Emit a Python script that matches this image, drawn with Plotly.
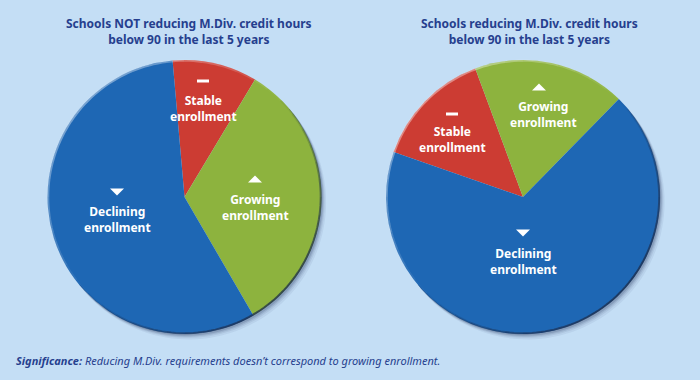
import math
import plotly.graph_objects as go

W, H = 700, 380

categories = ["Stable enrollment", "Growing enrollment", "Declining enrollment"]
left_values = [10, 33, 57]
right_values = [14, 18, 68]
colors = ["#cc3c33", "#8db33e", "#1e67b4"]

left_title = "Schools NOT reducing M.Div. credit hours<br>below 90 in the last 5 years"
right_title = "Schools reducing M.Div. credit hours<br>below 90 in the last 5 years"
note_bold = "Significance:"
note_text = " Reducing M.Div. requirements doesn’t correspond to growing enrollment."

BG = "#c4def5"
NAVY = "#263f8e"
FONT = "Noto Sans"

def px(x): return x / W
def py(y): return 1 - y / H

def dom(cx, cy, r):
    return dict(x=[px(cx - r), px(cx + r)], y=[py(cy + r), py(cy - r)])

fig = go.Figure()

pies = [
    dict(vals=left_values, cx=184.5, cy=197, r=137, rot=-5),
    dict(vals=right_values, cx=523, cy=197, r=137, rot=-70.8),
]

for p in pies:
    fig.add_trace(go.Pie(
        labels=categories, values=p["vals"], sort=False, direction="clockwise",
        rotation=p["rot"], textinfo="none", hoverinfo="label+percent",
        marker=dict(colors=colors, line=dict(width=0)),
        domain=dom(p["cx"], p["cy"], p["r"]),
        showlegend=False,
    ))

shapes = []

def path_of(pts, close=False):
    d = "M " + " L ".join(f"{px(x):.5f},{py(y):.5f}" for x, y in pts)
    return d + (" Z" if close else "")

# soft drop shadow: crescent bands outside the bottom-right edge of each pie
for p in pies:
    cx, cy, r = p["cx"], p["cy"], p["r"]
    for wmax, a in [(7, 0.06), (5, 0.08), (3.5, 0.11), (2.2, 0.15)]:
        n = 72
        th = [math.radians(-40 + 180 * k / n) for k in range(n + 1)]
        outer = [(cx + (r + wmax * max(0.0, math.cos(t - math.radians(50)))) * math.cos(t),
                  cy + (r + wmax * max(0.0, math.cos(t - math.radians(50)))) * math.sin(t)) for t in th]
        inner = [(cx + (r - 0.5) * math.cos(t), cy + (r - 0.5) * math.sin(t)) for t in reversed(th)]
        shapes.append(dict(type="path", xref="paper", yref="paper", path=path_of(outer + inner, True),
                           fillcolor=f"rgba(20,40,80,{a})", line=dict(width=0), layer="above"))

# rim: light toward top-left, dark toward bottom-right
NSEG = 48
for p in pies:
    rr = p["r"] - 0.8
    for i in range(NSEG):
        a0 = 2 * math.pi * i / NSEG
        a1 = 2 * math.pi * (i + 1) / NSEG
        am = (a0 + a1) / 2
        t = math.cos(am - math.radians(225))  # 1 at top-left, -1 at bottom-right
        if t > 0:
            col = f"rgba(255,255,255,{0.40 * t:.3f})"
        else:
            col = f"rgba(30,45,75,{0.75 * -t:.3f})"
        pts = []
        for k in range(5):
            a = a0 + (a1 - a0) * k / 4
            pts.append((p["cx"] + rr * math.cos(a), p["cy"] + rr * math.sin(a)))
        shapes.append(dict(type="path", xref="paper", yref="paper", path=path_of(pts),
                           line=dict(color=col, width=2), layer="above"))

def tri(cx, cy, up):
    w, h = 7, 7
    if up:
        pts = [(cx - w, cy + h / 2), (cx + w, cy + h / 2), (cx, cy - h / 2)]
    else:
        pts = [(cx - w, cy - h / 2), (cx + w, cy - h / 2), (cx, cy + h / 2)]
    return dict(type="path", xref="paper", yref="paper", path=path_of(pts, True),
                fillcolor="white", line=dict(width=0), layer="above")

def dash(cx, cy):
    return dict(type="rect", xref="paper", yref="paper", x0=px(cx - 6), x1=px(cx + 6),
                y0=py(cy + 1.5), y1=py(cy - 1.5), fillcolor="white", line=dict(width=0), layer="above")

# label markers: (kind, x, y)
markers = [("dash", 203, 81), ("up", 255, 179), ("down", 117, 192),
           ("dash", 452, 114), ("up", 539, 87), ("down", 523, 233)]
for kind, x, y in markers:
    if kind == "dash":
        shapes.append(dash(x, y))
    else:
        shapes.append(tri(x, y, kind == "up"))

label_pos = [(203, 108), (255, 207), (117, 219), (452, 139), (543, 115), (523, 261)]
label_texts = [categories[0], categories[1], categories[2]] * 2
annotations = []
for (x, y), t in zip(label_pos, label_texts):
    annotations.append(dict(x=px(x), y=py(y), xref="paper", yref="paper", showarrow=False,
                            text="<b>" + t.replace(" ", "<br>") + "</b>",
                            font=dict(family=FONT, size=12, color="white"),
                            xanchor="center", yanchor="middle"))

for x, t in [(189, left_title), (529.5, right_title)]:
    annotations.append(dict(x=px(x), y=py(31), xref="paper", yref="paper", showarrow=False,
                            text="<b>" + t + "</b>", font=dict(family=FONT, size=12, color=NAVY),
                            xanchor="center", yanchor="middle"))

annotations.append(dict(x=px(14), y=py(360), xref="paper", yref="paper", showarrow=False,
                        text="<i><b>" + note_bold + "</b>" + note_text + "</i>",
                        font=dict(family=FONT, size=11, color=NAVY),
                        xanchor="left", yanchor="middle"))

fig.update_layout(width=W, height=H, margin=dict(l=0, r=0, t=0, b=0),
                  paper_bgcolor=BG, plot_bgcolor=BG,
                  shapes=shapes, annotations=annotations)

fig.write_html("out.html", config={"displayModeBar": False},
               post_script="document.body.style.margin='0';document.body.style.overflow='hidden';")
